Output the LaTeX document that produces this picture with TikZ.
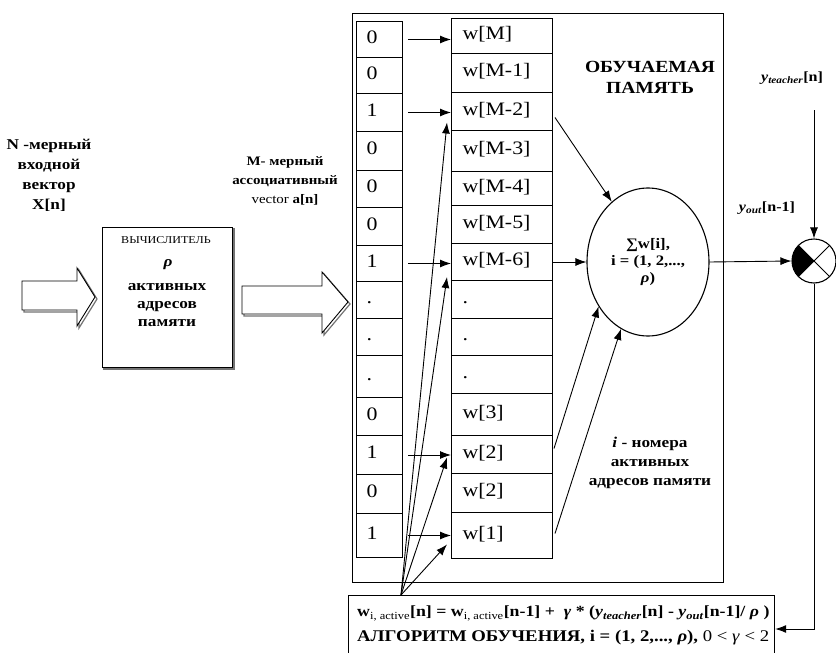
\documentclass[tikz,border=0pt]{standalone}
\usepackage{fontspec}
\setmainfont{Liberation Serif}[FakeStretch=1.15]
\usetikzlibrary{arrows.meta,calc,shapes.geometric}
\begin{document}
\begin{tikzpicture}[x=1pt,y=-1pt,
  arr/.style={-{Latex[length=11pt,width=8pt]}, line width=0.9pt},
  bitcell/.style={draw, line width=1pt, minimum width=46pt, inner xsep=10pt, inner ysep=0pt, text width=26pt, align=left, anchor=north west, font=\fontsize{19}{19}\selectfont, execute at begin node={\strut}},
  wcell/.style={draw, line width=1pt, minimum width=101pt, inner xsep=11pt, inner ysep=0pt, text width=79pt, align=left, anchor=north west, font=\fontsize{19}{19}\selectfont, execute at begin node={\strut}},
  lbl/.style={align=center, inner sep=0pt},
  blockarrow/.style={draw, line width=0.9pt, fill=white},
  shadowline/.style={draw=black!55, line width=1.2pt},
]
\clip (0,0) rectangle (836,653);
\fill[white] (0,0) rectangle (836,653);

% input texts
\node[lbl, font=\bfseries\fontsize{15}{20}\selectfont] (nin) at (49,175) {N -мерный\\входной\\вектор\\X[n]};
\node[lbl, font=\bfseries\fontsize{13}{19}\selectfont] (min) at (285,181) {M- мерный\\ассоциативный\\{\mdseries vector} a[n]};

% block arrows
\draw[shadowline] (24,283) -- (79,283) -- (79,270) -- (97,299) -- (79,328) -- (79,312) -- (24,312) -- cycle;
\draw[blockarrow] (22,281) -- (77,281) -- (77,268) -- (95,297) -- (77,326) -- (77,310) -- (22,310) -- cycle;
\draw[shadowline] (244,288) -- (324,288) -- (324,274) -- (350,304) -- (324,335) -- (324,316) -- (244,316) -- cycle;
\draw[blockarrow] (242,286) -- (322,286) -- (322,272) -- (348,302) -- (322,333) -- (322,314) -- (242,314) -- cycle;

% calculator box
\draw[shadowline] (104,229) rectangle (234,369);
\node[draw, line width=1pt, fill=white, minimum width=130pt, minimum height=140pt, inner sep=0, anchor=north west] (calc) at (102,227) {};
\node[lbl, font=\fontsize{10.5}{12}\selectfont] (calct) at (166,240) {ВЫЧИСЛИТЕЛЬ};
\node[lbl, font=\bfseries\itshape\fontsize{15}{18}\selectfont] (calcr) at (168,265) {ρ};
\node[lbl, font=\bfseries\fontsize{15}{18}\selectfont] (calcb) at (167,305) {активных\\адресов\\памяти};

% memory box
\node[draw, line width=1.2pt, minimum width=371pt, minimum height=569pt, inner sep=0, anchor=north west] (mem) at (352,13) {};

% bit column
\foreach \t/\b/\l [count=\k] in {21/57/0, 57/93/0, 93/131/1, 131/170/0, 170/207/0, 207/245/0, 245/281/1, 281/318/., 318/355/., 355/397/., 397/435/0, 435/474/1, 474/513/0, 513/557/1}
  \node[bitcell, minimum height={\b-\t}] (a\k) at (356,\t) {\l};

% weight column
\foreach \t/\b/\l [count=\k] in {18/53/w[M], 53/92/w[M-1], 92/130/w[M-2], 130/171/w[M-3], 171/205/w[M-4], 205/243/w[M-5], 243/280/w[M-6], 280/318/., 318/355/., 355/393/., 393/435/w[3], 435/473/w[2], 473/512/w[2], 512/558/w[1]}
  \node[wcell, minimum height={\b-\t}] (w\k) at (451,\t) {\l};

% bit -> weight arrows
\foreach \k in {1,3,7,12,14}
  \draw[arr] ($(a\k.east)+(5,0)$) -- (a\k.east -| w\k.west);

% learning-rule box
\node[draw, line width=1.2pt, minimum width=426pt, minimum height=80pt, inner sep=0, anchor=north west] (upd) at (348,595) {};
\node[anchor=north west, align=left, inner sep=0, font=\bfseries\fontsize{15.5}{25}\selectfont] (updtxt) at (357,606)
  {w\textsubscript{\mdseries i, active}[n] = w\textsubscript{\mdseries i, active}[n-1] +\ \ \textit{γ} * (\textit{y}\textsubscript{\textit{teacher}}[n] - \textit{y}\textsubscript{\textit{out}}[n-1]/ \textit{ρ} )\\
   \fontsize{16.3}{25}\selectfont АЛГОРИТМ ОБУЧЕНИЯ, i = (1, 2,..., \textit{ρ}), {\mdseries 0 < \textit{γ} < 2}};
\coordinate (src) at ($(upd.north west)+(53,0)$);

\draw[arr] (src) -- ($(w3.west)+(-4,11)$);
\draw[arr] (src) -- ($(w7.west)+(-4,15)$);
\draw[arr] (src) -- ($(w12.west)+(-4,3)$);
\draw[arr] (src) -- ($(w14.west)+(-4,9)$);

% summing ellipse
\node[ellipse, draw, line width=1.1pt, minimum width=122pt, minimum height=148pt, inner sep=0, align=center, font=\bfseries\fontsize{14.5}{17}\selectfont] (sum) at (648,262) {∑w[i],\\i = (1, 2,...,\\\textit{ρ})};

\draw[arr] ($(w3.east)+(2,6)$) -- (sum.121);
\draw[arr] (w7.east) -- (sum.west);
\draw[arr] ($(w12.east)+(1,-6)$) -- (sum.222);
\draw[arr] ($(w14.east)+(2,-2)$) -- (sum.248);

\node[lbl, font=\bfseries\fontsize{17}{21}\selectfont] (memt) at (650,77) {ОБУЧАЕМАЯ\\ПАМЯТЬ};
\node[lbl, font=\bfseries\fontsize{15}{19}\selectfont] (idx) at (650,463) {\textit{i} - номера\\активных\\адресов памяти};

% comparator
\node[circle, draw, line width=1.1pt, minimum size=44pt, inner sep=0, path picture={
  \fill (path picture bounding box.center) -- (path picture bounding box.north west) -- (path picture bounding box.south west) -- cycle;
  \draw[line width=0.9pt] (path picture bounding box.north west) -- (path picture bounding box.south east)
        (path picture bounding box.north east) -- (path picture bounding box.south west);
}] (sj) at (814,261) {};

\draw[arr] (sum.east) -- (sj.west);
\node[lbl, font=\bfseries\fontsize{14}{16}\selectfont] (yout) at (767,208) {\textit{y}\textsubscript{\textit{out}}[n-1]};
\node[lbl, font=\bfseries\fontsize{14}{16}\selectfont] (ytch) at (792,78) {\textit{y}\textsubscript{\textit{teacher}}[n]};
\coordinate (tin) at (814,110);
\draw[arr] (tin) -- (sj.north);
\coordinate (fb) at (814,629);
\draw[arr] (sj.south) -- (fb) -- (fb -| upd.east);
\end{tikzpicture}
\end{document}
